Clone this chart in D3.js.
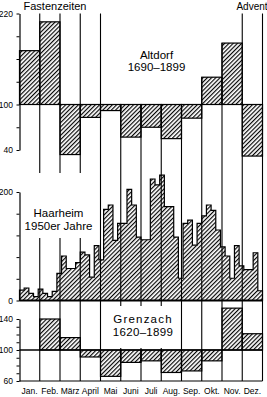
<!DOCTYPE html>
<html><head><meta charset="utf-8">
<script src="https://cdn.jsdelivr.net/npm/d3@7"></script>
<style>
html,body{margin:0;padding:0;background:#fff;}
svg{display:block;font-family:"Liberation Sans",Arial,sans-serif;}
</style></head><body>
<svg id="c" width="267" height="397"></svg>
<script>
const months = ["Jan.","Feb.","März","April","Mai","Juni","Juli","Aug.","Sep.","Okt.","Nov.","Dez."];
const altdorf = [171,209,34,83,92,57,70,55,82,136,181,32];
const grenzach = [100,140,116,91,66,84,86,71,73,86,154,121];
const haarheim = [19,23,13,7,21,13,7,17,50,82,59,59,70,89,84,43,101,75,168,176,111,142,142,205,176,117,112,112,224,213,231,173,173,117,41,142,148,102,142,156,176,166,130,99,82,41,101,64,57,57,88,18];
const seasons = [{label:"Fastenzeiten", from:1, to:4},{label:"Advent", from:11, to:12}];
const altdorfTicks = [40,70,100,130,160,190,220];
const altdorfLabels = [40,100,220];
const haarheimTicks = [0,40,80,120,160,200];
const haarheimLabels = [0,200];
const grenzachTicks = [60,70,80,90,100,110,120,130,140];
const grenzachLabels = [60,100,140];

const svg = d3.select("#c");
const X0 = 19.5, X1 = 262.5;
const x = d3.scaleLinear().domain([0,12]).range([X0,X1]);
const xw = d3.scaleLinear().domain([0,52]).range([X0,X1]);
const yA = d3.scaleLinear().domain([40,220]).range([150,13.5]);
const yH = d3.scaleLinear().domain([0,200]).range([300.5,192]);
const yG = d3.scaleLinear().domain([60,140]).range([381,319]);

const defs = svg.append("defs");
const pat = defs.append("pattern").attr("id","hatch").attr("patternUnits","userSpaceOnUse")
  .attr("width",3).attr("height",3).attr("patternTransform","rotate(45)");
pat.append("line").attr("x1",0.6).attr("y1",-1).attr("x2",0.6).attr("y2",4)
  .attr("stroke","#000").attr("stroke-width",1.15);

// month boundary lines
const bounds = d3.range(1,13);
svg.append("g").selectAll("line").data(bounds).join("line")
  .attr("x1",b=>x(b)).attr("x2",b=>x(b))
  .attr("y1",b=>{
    const inS = seasons.some(s=>b>=s.from && b<=s.to);
    if (inS) return yA(220);
    const vals=[100, altdorf[b-1]]; if (b<12) vals.push(altdorf[b]);
    return d3.min(vals.map(v=>yA(v)));
  })
  .attr("y2",yG(60))
  .attr("stroke","#000").attr("stroke-width",1.1);

// label masks
svg.append("rect").attr("x",27).attr("y",173).attr("width",69).attr("height",65).attr("fill","#fff");
svg.append("rect").attr("x",108).attr("y",306).attr("width",70).attr("height",42).attr("fill","#fff");

// Altdorf bars
svg.append("g").selectAll("rect").data(altdorf).join("rect")
  .attr("x",(d,i)=>x(i)).attr("width",(d,i)=>x(i+1)-x(i))
  .attr("y",d=>Math.min(yA(d),yA(100))).attr("height",d=>Math.abs(yA(d)-yA(100)))
  .attr("fill","url(#hatch)").attr("stroke","#000").attr("stroke-width",1.2);
svg.append("line").attr("x1",X0).attr("x2",X1).attr("y1",yA(100)).attr("y2",yA(100))
  .attr("stroke","#000").attr("stroke-width",1.2);

// Haarheim histogram
const hd = haarheim.map((v,i)=>[i,v]).concat([[52,haarheim[51]]]);
svg.append("path").datum(hd)
  .attr("d",d3.area().x(d=>xw(d[0])).y0(yH(0)).y1(d=>yH(d[1])).curve(d3.curveStepAfter))
  .attr("fill","url(#hatch)").attr("stroke","#000").attr("stroke-width",1.2);
svg.append("line").attr("x1",X0).attr("x2",X1).attr("y1",yH(0)).attr("y2",yH(0))
  .attr("stroke","#000").attr("stroke-width",2);

// Grenzach bars
svg.append("g").selectAll("rect").data(grenzach).join("rect")
  .attr("x",(d,i)=>x(i)).attr("width",(d,i)=>x(i+1)-x(i))
  .attr("y",d=>Math.min(yG(d),yG(100))).attr("height",d=>Math.abs(yG(d)-yG(100)))
  .attr("fill","url(#hatch)").attr("stroke","#000").attr("stroke-width",1.2);
svg.append("line").attr("x1",X0).attr("x2",X1).attr("y1",yG(100)).attr("y2",yG(100))
  .attr("stroke","#000").attr("stroke-width",1.6);
svg.append("line").attr("x1",X0).attr("x2",X1).attr("y1",yG(60)).attr("y2",yG(60))
  .attr("stroke","#000").attr("stroke-width",1.2);

// axes
function axis(scale, ticks, labels){
  const g = svg.append("g").attr("transform",`translate(${X0},0)`)
    .call(d3.axisLeft(scale).tickValues(ticks).tickSize(3).tickSizeOuter(0).tickPadding(3.5)
      .tickFormat(d=>labels.includes(d)?d:""));
  g.select(".domain").attr("stroke-width",1.2);
  g.selectAll(".tick line").attr("stroke-width",1);
  g.selectAll("text").attr("font-size","8.5px").attr("font-family","Liberation Sans, Arial, sans-serif");
}
axis(yA, altdorfTicks, altdorfLabels);
axis(yH, haarheimTicks, haarheimLabels);
axis(yG, grenzachTicks, grenzachLabels);

// month labels
svg.append("g").selectAll("text").data(months).join("text")
  .attr("x",(d,i)=>x(i+0.5)).attr("y",394).attr("text-anchor","middle")
  .attr("font-size","8.5px").text(d=>d);

// season labels
svg.append("text").attr("x",55).attr("y",10).attr("text-anchor","middle").attr("font-size","11px").text(seasons[0].label);
svg.append("text").attr("x",252).attr("y",10).attr("text-anchor","middle").attr("font-size","10px").text(seasons[1].label);

// panel labels
function label(cx, y1, lines, ls){
  lines.forEach((t,k)=>svg.append("text").attr("x",cx).attr("y",y1+k*12.5)
    .attr("text-anchor","middle").attr("font-size","11.5px")
    .attr("letter-spacing", (ls && ls[k]) ? ls[k]+"px" : null).text(t));
}
label(156.5, 58.5, ["Altdorf","1690–1899"]);
label(58.5, 217, ["Haarheim","1950er Jahre"]);
label(143, 323, ["Grenzach","1620–1899"], [1.2, 0.3]);
</script>
</body></html>
